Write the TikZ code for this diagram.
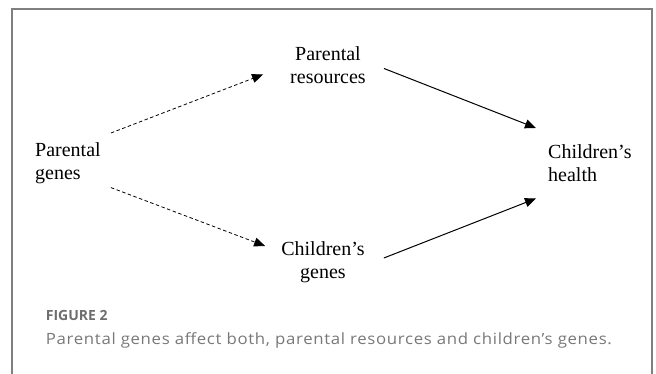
\documentclass[tikz,border=0pt]{standalone}
\usepackage{fontspec}
\setmainfont{Liberation Serif}
\newfontfamily\capfont{Open Sans}
\newfontfamily\capfontwide{Open Sans}[LetterSpace=4]
\usetikzlibrary{calc,arrows.meta}

\begin{document}
\begin{tikzpicture}[%
x=1pt, y=-1pt,
var/.style={inner sep=0pt, font=\fontsize{20}{23}\selectfont},
dashedarrow/.style={line width=0.8pt, dash pattern=on 3.5pt off 2.5pt, -{Triangle[length=11pt,width=9pt]}},
solidarrow/.style={line width=1pt, -{Triangle[length=11pt,width=9pt]}},
]
\useasboundingbox (0,0) rectangle (656,374);
%% frame;
\draw [color={rgb,255:red,128;green,128;blue,128}, line width=1.5pt] (12,374) -- (12,9) -- (652,9) -- (652,374);
%% variables;
\node [var, align=center, anchor=north] (res) at (328,46) {Parental\\resources};
\node [var, align=left, anchor=north west] (pgenes) at (35,142) {Parental\\genes};
\node [var, align=center, anchor=north] (cgenes) at (323,241) {Children’s\\genes};
\node [var, align=left, anchor=north west] (health) at (548,144) {Children’s\\health};
%% arrows;
\draw [dashedarrow] ($(pgenes.north east)+(10,-9)$) -- ($(res.south west)+(-27,-9)$);
\draw [dashedarrow] ($(pgenes.south east)+(10,4)$) -- ($(cgenes.north west)+(-16,5)$);
\draw [solidarrow] ($(res.south east)+(18,-15)$) -- ($(health.north west)+(-12,-16)$);
\draw [solidarrow] ($(cgenes.north east)+(19,17)$) -- ($(health.south west)+(-12,17)$);
%% caption;
\node [anchor=base west, inner sep=0pt, font=\capfont\bfseries\fontsize{14}{16}\selectfont, text={rgb,255:red,110;green,110;blue,110}] (figno) at (45.7,320.7) {FIGURE 2};
\node [anchor=base west, inner sep=0pt, font=\capfontwide\fontsize{15.5}{18}\selectfont, text={rgb,255:red,120;green,120;blue,120}] (captext) at (45.7,344) {\resizebox{566pt}{\height}{Parental genes affect both, parental resources and children’s genes.}};
\end{tikzpicture}
\end{document}
